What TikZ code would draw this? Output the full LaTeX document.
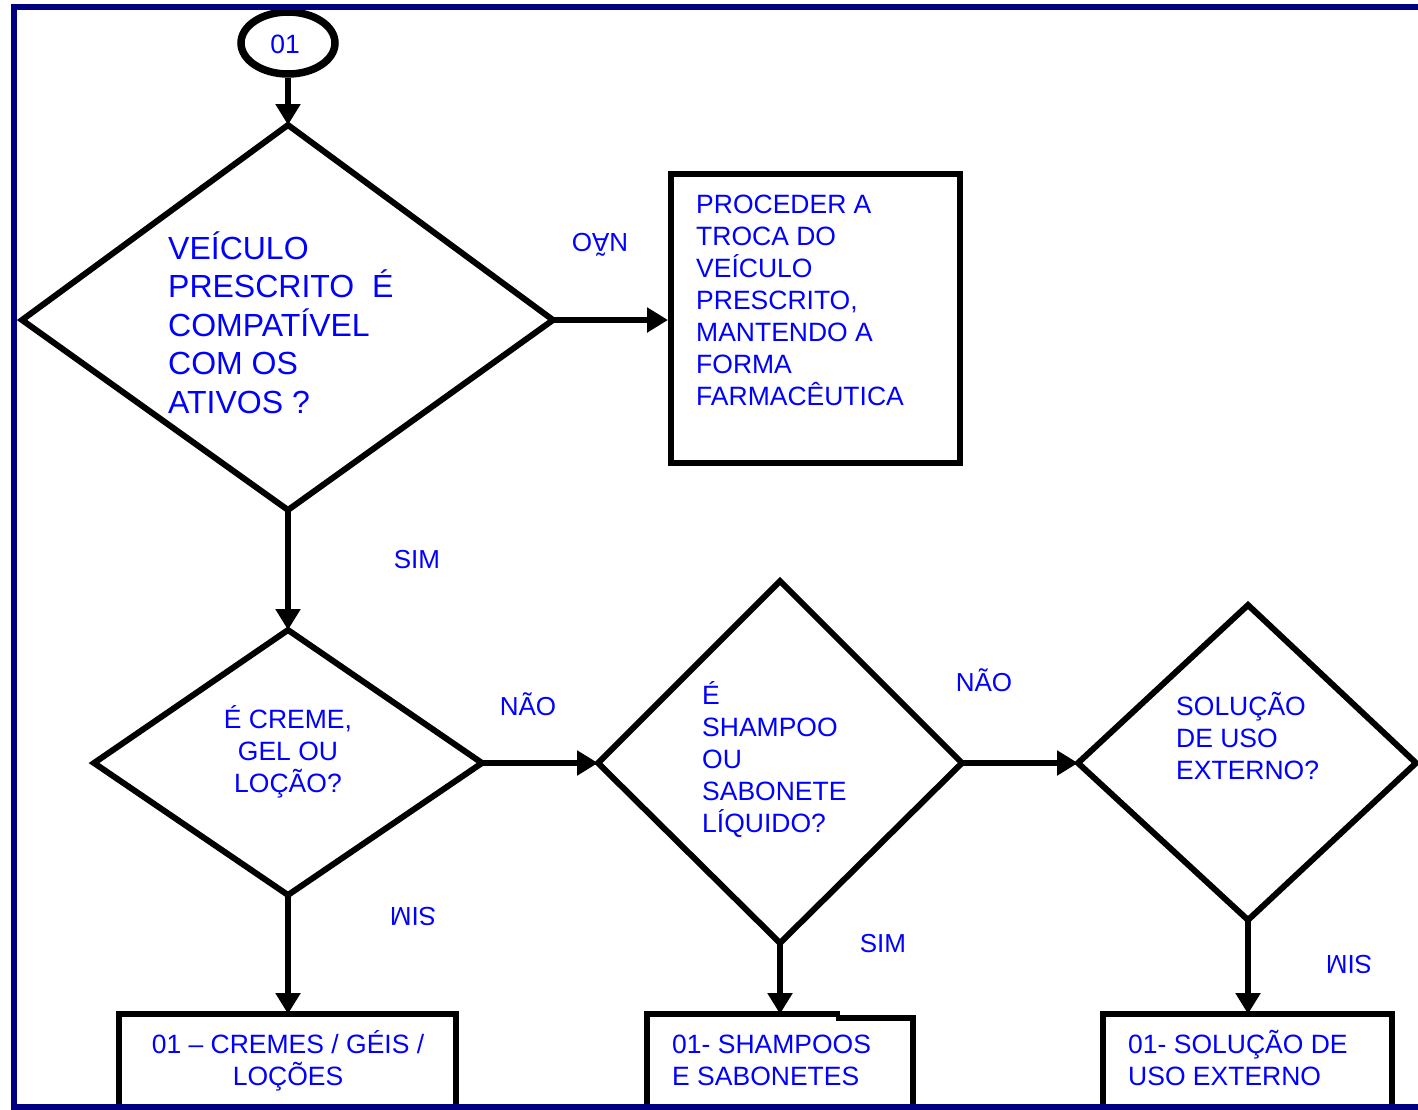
\documentclass[tikz,border=0pt]{standalone}
\usepackage{fontspec}
\setmainfont{Liberation Sans}
\usepackage{graphicx}
\usetikzlibrary{arrows.meta,shapes.geometric}
\definecolor{framenavy}{RGB}{0,0,128}
\definecolor{txtblue}{RGB}{0,0,255}
\newcommand{\acc}{\vphantom{ÃÉÍ}}
\tikzset{
  shapeline/.style={line width=6pt, black, line join=miter},
  conn/.style={line width=6pt, black, -{Triangle[length=21pt,width=24pt]}},
  txt/.style={text=txtblue, font=\fontsize{26.5}{32}\selectfont, inner sep=0pt},
  bigtxt/.style={text=txtblue, font=\fontsize{32}{38.5}\selectfont, inner sep=0pt},
  lbl/.style={text=txtblue, font=\fontsize{26}{30}\selectfont, inner sep=0pt},
}
\begin{document}
\begin{tikzpicture}[x=1pt,y=-1pt]
\useasboundingbox (0,0) rectangle (1418,1109);
\fill[white] (0,0) rectangle (1418,1109);

% start ellipse
\node[draw, line width=7.5pt, ellipse, minimum width=94pt, minimum height=62pt, inner sep=0pt] (start) at (288,43) {};
\node[txt] (starttxt) at (285,44) {01};

% diamond 1
\coordinate (d1t) at (288,125); \coordinate (d1l) at (22,320);
\coordinate (d1r) at (553,320); \coordinate (d1b) at (288,510);
\draw[shapeline] (d1t) -- (d1r) -- (d1b) -- (d1l) -- cycle;
\node[bigtxt, anchor=north west, align=left] (d1txt) at (168,231) {\acc VEÍCULO\\PRESCRITO~~É\\COMPATÍVEL\\COM OS\\ATIVOS ?};

% box 1
\node[draw, line width=6pt, minimum width=289pt, minimum height=289pt, inner sep=0pt] (b1) at (815.5,318.5) {};
\node[txt, anchor=north west, align=left] (b1txt) at (696,190) {\acc PROCEDER A\\TROCA DO\\VEÍCULO\\PRESCRITO,\\MANTENDO A\\FORMA\\FARMACÊUTICA};

% diamond 2
\coordinate (d2t) at (288,630); \coordinate (d2l) at (94,763);
\coordinate (d2r) at (482,763); \coordinate (d2b) at (288,895);
\draw[shapeline] (d2t) -- (d2r) -- (d2b) -- (d2l) -- cycle;
\node[txt, align=center] (d2txt) at (288,752) {É CREME,\\GEL OU\\LOÇÃO?};

% diamond 3
\coordinate (d3t) at (780,581); \coordinate (d3l) at (598,763);
\coordinate (d3r) at (962,763); \coordinate (d3b) at (780,943);
\draw[shapeline] (d3t) -- (d3r) -- (d3b) -- (d3l) -- cycle;
\node[txt, anchor=north west, align=left] (d3txt) at (702,681) {\acc É\\SHAMPOO\\OU\\SABONETE\\LÍQUIDO?};

% diamond 4
\coordinate (d4t) at (1248,605); \coordinate (d4l) at (1078,763);
\coordinate (d4r) at (1416,763); \coordinate (d4b) at (1248,920);
\draw[shapeline] (d4t) -- (d4r) -- (d4b) -- (d4l) -- cycle;
\node[txt, anchor=north west, align=left] (d4txt) at (1176,692) {\acc SOLUÇÃO\\DE USO\\EXTERNO?};

% bottom boxes
\coordinate (b2t) at (288,1014);
\draw[shapeline] (119,1120) -- (119,1014) -- (456,1014) -- (456,1120);
\node[txt, align=center] (b2txt) at (288,1061) {01 – CREMES / GÉIS /\\LOÇÕES};

\coordinate (b3t) at (780,1014);
\draw[shapeline] (647,1120) -- (647,1014) -- (840,1014);
\draw[shapeline] (836,1018) -- (913,1018) -- (913,1120);
\node[txt, anchor=north west, align=left] (b3txt) at (672,1030) {\acc 01- SHAMPOOS\\E SABONETES};

\coordinate (b4t) at (1248,1014);
\draw[shapeline] (1103,1120) -- (1103,1014) -- (1392,1014) -- (1392,1120);
\node[txt, anchor=north west, align=left] (b4txt) at (1128,1030) {\acc 01- SOLUÇÃO DE\\USO EXTERNO};

% connectors
\draw[conn] (start.south) -- (d1t);
\draw[conn] (d1r) -- (b1.west |- d1r);
\draw[conn] (d1b) -- (d2t);
\draw[conn] (d2r) -- (d3l);
\draw[conn] (d3r) -- (d4l);
\draw[conn] (d2b) -- (b2t);
\draw[conn] (d3b) -- (b3t);
\draw[conn] (d4b) -- (b4t);

% labels
\node[lbl] (l1) at (600,245) {\rotatebox[origin=c]{180}{NÃO}};
\node[lbl] (l2) at (417,560) {SIM};
\node[lbl] (l3) at (528,704) {NÃO};
\node[lbl] (l4) at (984,680) {NÃO};
\node[lbl] (l5) at (413,916) {\rotatebox[origin=c]{180}{SIM}};
\node[lbl] (l6) at (883,944) {SIM};
\node[lbl] (l7) at (1349,964) {\rotatebox[origin=c]{180}{SIM}};

% frame
\draw[framenavy, line width=6pt] (1430,7) -- (14,7) -- (14,1107) -- (1430,1107);
\end{tikzpicture}
\end{document}
